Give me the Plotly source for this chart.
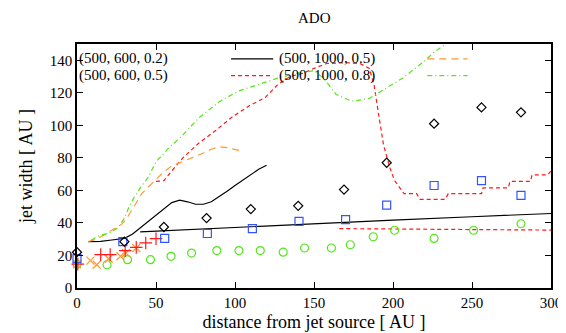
import plotly.graph_objects as go

# ---- observational points ----
diamond_x = [0, 30, 55, 82, 110, 140, 169, 196, 226, 256, 281]
diamond_y = [22, 28.5, 37.5, 43, 48.5, 50.5, 60.5, 77, 101, 111, 108]

square_x = [0, 29, 55.5, 82.5, 111, 140.5, 170, 196, 226, 256, 281]
square_y = [18, 28.5, 30.5, 33.5, 36.5, 41, 42, 51, 63, 66, 57]

plus_x = [0.5, 15, 21, 30.5, 37.5, 43.5, 50]
plus_y = [14.7, 20.5, 20.5, 23, 25, 27.7, 30.3]

cross_x = [0, 8.5, 12.5, 20, 27.5, 31, 37.5]
cross_y = [14.6, 16.8, 14.3, 18, 19.5, 21.5, 24.6]

circle_x = [0, 19, 32, 46.5, 59.5, 72.5, 88.5, 102.5, 116, 130.5, 144, 161, 173, 187.5, 201, 226, 251, 281]
circle_y = [14.6, 14.3, 17.4, 17.4, 19.5, 21.5, 23, 23, 23, 22, 24.6, 24.6, 26.6, 31.5, 35.5, 30.5, 35.5, 39.5]

# ---- model curves ----
blk_x = [7, 15, 22, 30, 35, 40, 45, 50, 55, 60, 65, 70, 75, 80, 85, 90, 95, 100, 105, 110, 115, 120]
blk_y = [28.5, 28.7, 29.5, 30.5, 33, 37, 41, 45, 49, 52.5, 54, 53, 51.5, 51.5, 53, 56, 59.5, 63, 66.5, 70, 73, 75.5]
blk2_x = [40, 100, 150, 200, 250, 300]
blk2_y = [34.5, 37.3, 39.5, 41.7, 43.8, 45.8]

red_x = [50, 55, 60, 67, 77, 88, 98, 109, 119, 127, 135, 143, 150, 158, 170, 179, 185, 188, 191,
         194, 198, 201, 207, 215, 217, 233, 235, 256, 257, 273, 274, 287, 288, 298, 300]
red_y = [65.5, 66, 72, 80, 89, 97, 105, 112, 117, 125, 130, 132, 135, 138, 138.5, 138, 135, 125, 106,
         88, 74, 66, 58, 58, 54.5, 54.5, 58, 58, 61.5, 61.5, 65.5, 65.5, 69.5, 69.5, 72]
red2_x = [166, 300]
red2_y = [36.5, 35.6]

org_x = [7, 12, 17, 23, 28, 31, 34, 37, 41, 45, 50, 55, 60, 65, 70, 75, 80, 85, 90, 95, 100, 103]
org_y = [28.5, 30, 32.5, 36, 39, 42, 47, 52, 58, 62, 67, 71.5, 75, 77, 79, 80.5, 83, 85.3, 86.8, 86.3, 85, 84.5]

grn_x = [9, 15, 21, 26, 30, 33, 36, 40, 45, 50, 58, 66, 77, 90, 102, 117, 127, 139, 150, 156, 164,
         174, 185, 195, 206, 214, 220, 226, 235]
grn_y = [29.5, 32.5, 34, 37, 43, 50, 55.5, 61.5, 68, 77.5, 86, 93, 104.5, 114.5, 121, 126, 129, 132,
         133.5, 129, 119, 114.8, 116.5, 122.5, 129, 135, 139.5, 145, 151]

legend_labels = ["(500, 600, 0.2)", "(500, 1000, 0.5)", "(500, 600, 0.5)", "(500, 1000, 0.8)"]

BLACK = "#000000"
RED = "#ff1a1a"
ORANGE = "#ff9933"
GREEN = "#55e619"
BLUE = "#3355ff"
FONT = "Liberation Serif"
FS = 15

fig = go.Figure()

def line(x, y, color, dash):
    fig.add_trace(go.Scatter(x=x, y=y, mode="lines", showlegend=False,
                             line=dict(color=color, width=1.2, dash=dash)))

line(blk_x, blk_y, BLACK, "solid")
line(blk2_x, blk2_y, BLACK, "solid")
line(red_x, red_y, RED, "4px,3px")
line(red2_x, red2_y, RED, "4px,3px")
line(org_x, org_y, ORANGE, "7px,5px")
line(grn_x, grn_y, GREEN, "5px,3px,1px,3px")

def pts(x, y, symbol, color, size):
    fig.add_trace(go.Scatter(x=x, y=y, mode="markers", showlegend=False, cliponaxis=False,
                             marker=dict(symbol=symbol, size=size, color=color,
                                         line=dict(color=color, width=1.2))))

pts(circle_x, circle_y, "circle-open", GREEN, 8)
pts(cross_x, cross_y, "x-thin-open", ORANGE, 8)
pts(plus_x, plus_y, "cross-thin-open", RED, 9)
pts(square_x, square_y, "square-open", BLUE, 8)
pts(diamond_x, diamond_y, "diamond-open", BLACK, 7)

# gnuplot style key: text on the left, sample on the right
rows = [0.939, 0.870]
text_x = [0.002, 0.425]
samp_x = [(0.325, 0.414), (0.739, 0.824)]
samples = [(BLACK, "solid"), (ORANGE, "7px,5px"), (RED, "4px,3px"), (GREEN, "5px,3px,1px,3px")]
for i, lab in enumerate(legend_labels):
    r, c = divmod(i, 2)
    fig.add_annotation(x=text_x[c], y=rows[r], xref="paper", yref="paper", text=lab,
                       showarrow=False, xanchor="left", yanchor="middle", borderpad=0,
                       font=dict(family=FONT, size=FS, color="black"))
    col, dash = samples[i]
    fig.add_shape(type="line", xref="paper", yref="paper", x0=samp_x[c][0], x1=samp_x[c][1],
                  y0=rows[r], y1=rows[r], line=dict(color=col, width=1.2, dash=dash))

# title as annotation so it can sit close to the top edge
fig.add_annotation(x=0.5, y=1.105, xref="paper", yref="paper", text="ADO", showarrow=False,
                   xanchor="center", yanchor="middle", font=dict(family=FONT, size=FS, color="black"))

fig.update_layout(
    width=566, height=333,
    margin=dict(l=69, r=14, t=36, b=53),
    plot_bgcolor="white", paper_bgcolor="white",
    font=dict(family=FONT, size=FS, color="black"),
)
fig.update_xaxes(range=[0, 300], tickvals=[0, 50, 100, 150, 200, 250, 300],
                 ticks="inside", ticklen=6, tickcolor="black", showline=True, linecolor="black",
                 linewidth=1.5, mirror="ticks", showgrid=False, zeroline=False,
                 title=dict(text="distance from jet source [ AU ]", standoff=6))
fig.update_yaxes(range=[0, 150], tickvals=[0, 20, 40, 60, 80, 100, 120, 140],
                 ticks="inside", ticklen=6, tickcolor="black", showline=True, linecolor="black",
                 linewidth=1.5, mirror="ticks", showgrid=False, zeroline=False,
                 title=dict(text="jet width [ AU ]", standoff=12))

fig.write_html("out.html")
